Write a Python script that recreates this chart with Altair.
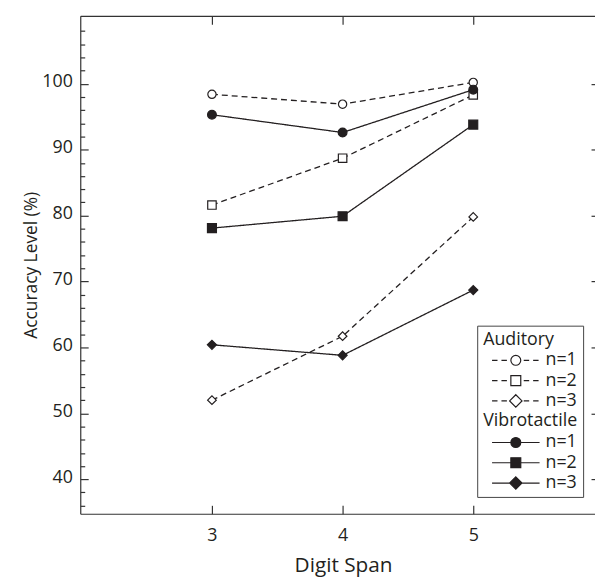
import altair as alt
import pandas as pd

# ---- data ----
digit_span = [3, 4, 5]
aud_n1 = [98.4, 96.9, 100.2]
aud_n2 = [81.6, 88.7, 98.3]
aud_n3 = [52.0, 61.7, 79.8]
vib_n1 = [95.3, 92.6, 99.1]
vib_n2 = [78.1, 79.9, 93.8]
vib_n3 = [60.4, 58.8, 68.7]

modalities = ["Auditory", "Vibrotactile"]
n_labels = ["n=1", "n=2", "n=3"]
series_keys = ["A1", "A2", "A3", "V1", "V2", "V3"]
x_ticks = [3, 4, 5]
y_major = [40, 50, 60, 70, 80, 90, 100]
y_minor = [v for v in range(36, 109, 2) if v % 10 != 0]

series_info = [
    ("Auditory", "n=1", "A1", aud_n1),
    ("Auditory", "n=2", "A2", aud_n2),
    ("Auditory", "n=3", "A3", aud_n3),
    ("Vibrotactile", "n=1", "V1", vib_n1),
    ("Vibrotactile", "n=2", "V2", vib_n2),
    ("Vibrotactile", "n=3", "V3", vib_n3),
]
rows = []
for mod, nl, key, vals in series_info:
    for xv, yv in zip(digit_span, vals):
        rows.append({"span": xv, "acc": yv, "modality": mod, "n": nl, "series": key})
df = pd.DataFrame(rows)

INK = "#231f20"
AX = "#333333"
FONT = "Open Sans"
W, H = 520, 503

xscale = alt.Scale(domain=[1.992, 5.932], nice=False, zero=False)
yscale = alt.Scale(domain=[34.77, 110.3], nice=False, zero=False)

# ---- legend symbol paths (line + marker) ----
dash_l = "M-4.8,0H-3.7M-2.9,0H-1.8"
dash_r = "M1.6,0H2.7M3.5,0H4.6"
solid_l = "M-4.8,0H-1"
solid_r = "M1,0H4.8"
circ = "M1,0A1,1,0,1,1,-1,0A1,1,0,1,1,1,0Z"
sq = "M-1,-1H1V1H-1Z"
dia = "M0,-1.25L1.25,0L0,1.25L-1.25,0Z"
blank = "M0,0"

legA_keys = ["A1", "A2", "A3", "B0", "B1", "B2", "B3"]
legA_paths = [dash_l + dash_r + circ, dash_l + dash_r + sq, dash_l + dash_r + dia,
              blank, blank, blank, blank]
legV_keys = ["V1", "V2", "V3"]
legV_paths = [solid_l + solid_r + circ, solid_l + solid_r + sq, solid_l + solid_r + dia]

lab_expr = ("datum.value === 'A1' || datum.value === 'V1' ? 'n=1   ' : "
            "datum.value === 'A2' || datum.value === 'V2' ? 'n=2   ' : "
            "datum.value === 'A3' || datum.value === 'V3' ? 'n=3   ' : ''")

base = alt.Chart(df)

# layer 1: lines + main axes (labels, domain lines)
lines = base.mark_line(color=INK, strokeWidth=1.3).encode(
    x=alt.X("span:Q", scale=xscale, axis=alt.Axis(
        orient="bottom", values=x_ticks, format="d", ticks=False,
        labelPadding=13.5, title="Digit Span", titlePadding=10, titleFontSize=21,
        titleX=265.5, grid=False)),
    y=alt.Y("acc:Q", scale=yscale, axis=alt.Axis(
        orient="left", values=y_major, ticks=False, labelPadding=8,
        labelOffset=-2, title="Accuracy Level (%)", titlePadding=1,
        titleFontSize=17.5, grid=False)),
    detail="series:N",
    strokeDash=alt.StrokeDash("modality:N", scale=alt.Scale(
        domain=modalities, range=[[6, 4], [1, 0]]), legend=None),
    order="span:Q",
)

# layer 2: markers + inward major ticks (bottom edge, left edge)
points = base.mark_point(filled=True, stroke=INK, strokeWidth=1.2, opacity=1).encode(
    x=alt.X("span:Q", scale=xscale, axis=alt.Axis(
        orient="top", offset=-H, values=x_ticks, ticks=True, tickSize=8.5,
        labels=False, domain=False, title=None, grid=False)),
    y=alt.Y("acc:Q", scale=yscale, axis=alt.Axis(
        orient="right", offset=-W, values=y_major, ticks=True, tickSize=8,
        labels=False, domain=False, title=None, grid=False)),
    shape=alt.Shape("n:N", scale=alt.Scale(domain=n_labels,
                    range=["circle", "square", "diamond"]), legend=None),
    fill=alt.Fill("modality:N", scale=alt.Scale(domain=modalities,
                  range=["white", INK]), legend=None),
    size=alt.Size("series:N", scale=alt.Scale(domain=series_keys,
                  range=[70, 85, 120, 95, 100, 150]), legend=None),
)

# layer 3: legend "Auditory" + top frame with inward ticks + left minor ticks
legA = base.transform_filter("false").mark_point(
    filled=True, fill="white", stroke=INK, strokeWidth=1.2, size=100, opacity=1).encode(
    x=alt.X("span:Q", scale=xscale, axis=alt.Axis(
        orient="bottom", offset=-H, values=x_ticks, ticks=True, tickSize=8.5,
        labels=False, domain=True, title=None, grid=False)),
    y=alt.Y("acc:Q", scale=yscale, axis=alt.Axis(
        orient="right", offset=-W, values=y_minor, ticks=True, tickSize=4.5,
        labels=False, domain=False, title=None, grid=False)),
    shape=alt.Shape("series:N", scale=alt.Scale(domain=legA_keys, range=legA_paths),
                    legend=alt.Legend(title="Auditory", orient="none", legendX=401,
                                      legendY=313, labelExpr=lab_expr,
                                      symbolOffset=24, labelOffset=21,
                                      symbolSize=100, rowPadding=2.5,
                                      strokeColor="#444", padding=6)),
)

# layer 4: legend "Vibrotactile" + right-edge inward ticks
legV = base.transform_filter("false").mark_point(
    filled=True, fill=INK, stroke=INK, strokeWidth=1.2, size=100, opacity=1).encode(
    x=alt.X("span:Q", scale=xscale, axis=None),
    y=alt.Y("acc:Q", scale=yscale, axis=alt.Axis(
        orient="left", offset=-W, values=y_major, ticks=True, tickSize=4,
        labels=False, domain=False, title=None, grid=False)),
    shape=alt.Shape("series:N", scale=alt.Scale(domain=legV_keys, range=legV_paths),
                    legend=alt.Legend(title="Vibrotactile", orient="none", legendX=403,
                                      legendY=396, labelExpr=lab_expr,
                                      symbolOffset=24, labelOffset=21,
                                      symbolSize=100, rowPadding=2.5, padding=4,
                                      titlePadding=4)),
)

chart = alt.layer(lines, points, legA, legV).resolve_scale(
    shape="independent", fill="independent", size="independent",
    strokeDash="independent"
).resolve_axis(x="independent", y="independent").properties(
    width=W, height=H,
    autosize=alt.AutoSizeParams(type="none"),
    padding={"left": 73, "top": 5, "right": 0, "bottom": 62},
).configure_view(stroke="transparent").configure_axis(
    labelFont=FONT, titleFont=FONT, labelFontSize=18,
    titleFontWeight="normal", labelColor=INK, titleColor=INK,
    domainColor=AX, domainWidth=1.2, tickColor=AX, tickWidth=1.2,
).configure_legend(
    labelFont=FONT, titleFont=FONT, labelFontSize=18, titleFontSize=18,
    titleFontWeight="normal", labelColor=INK, titleColor=INK,
    symbolStrokeWidth=1.2, titlePadding=2,
)

chart.save("out.html", embed_options={"renderer": "svg", "actions": False})
